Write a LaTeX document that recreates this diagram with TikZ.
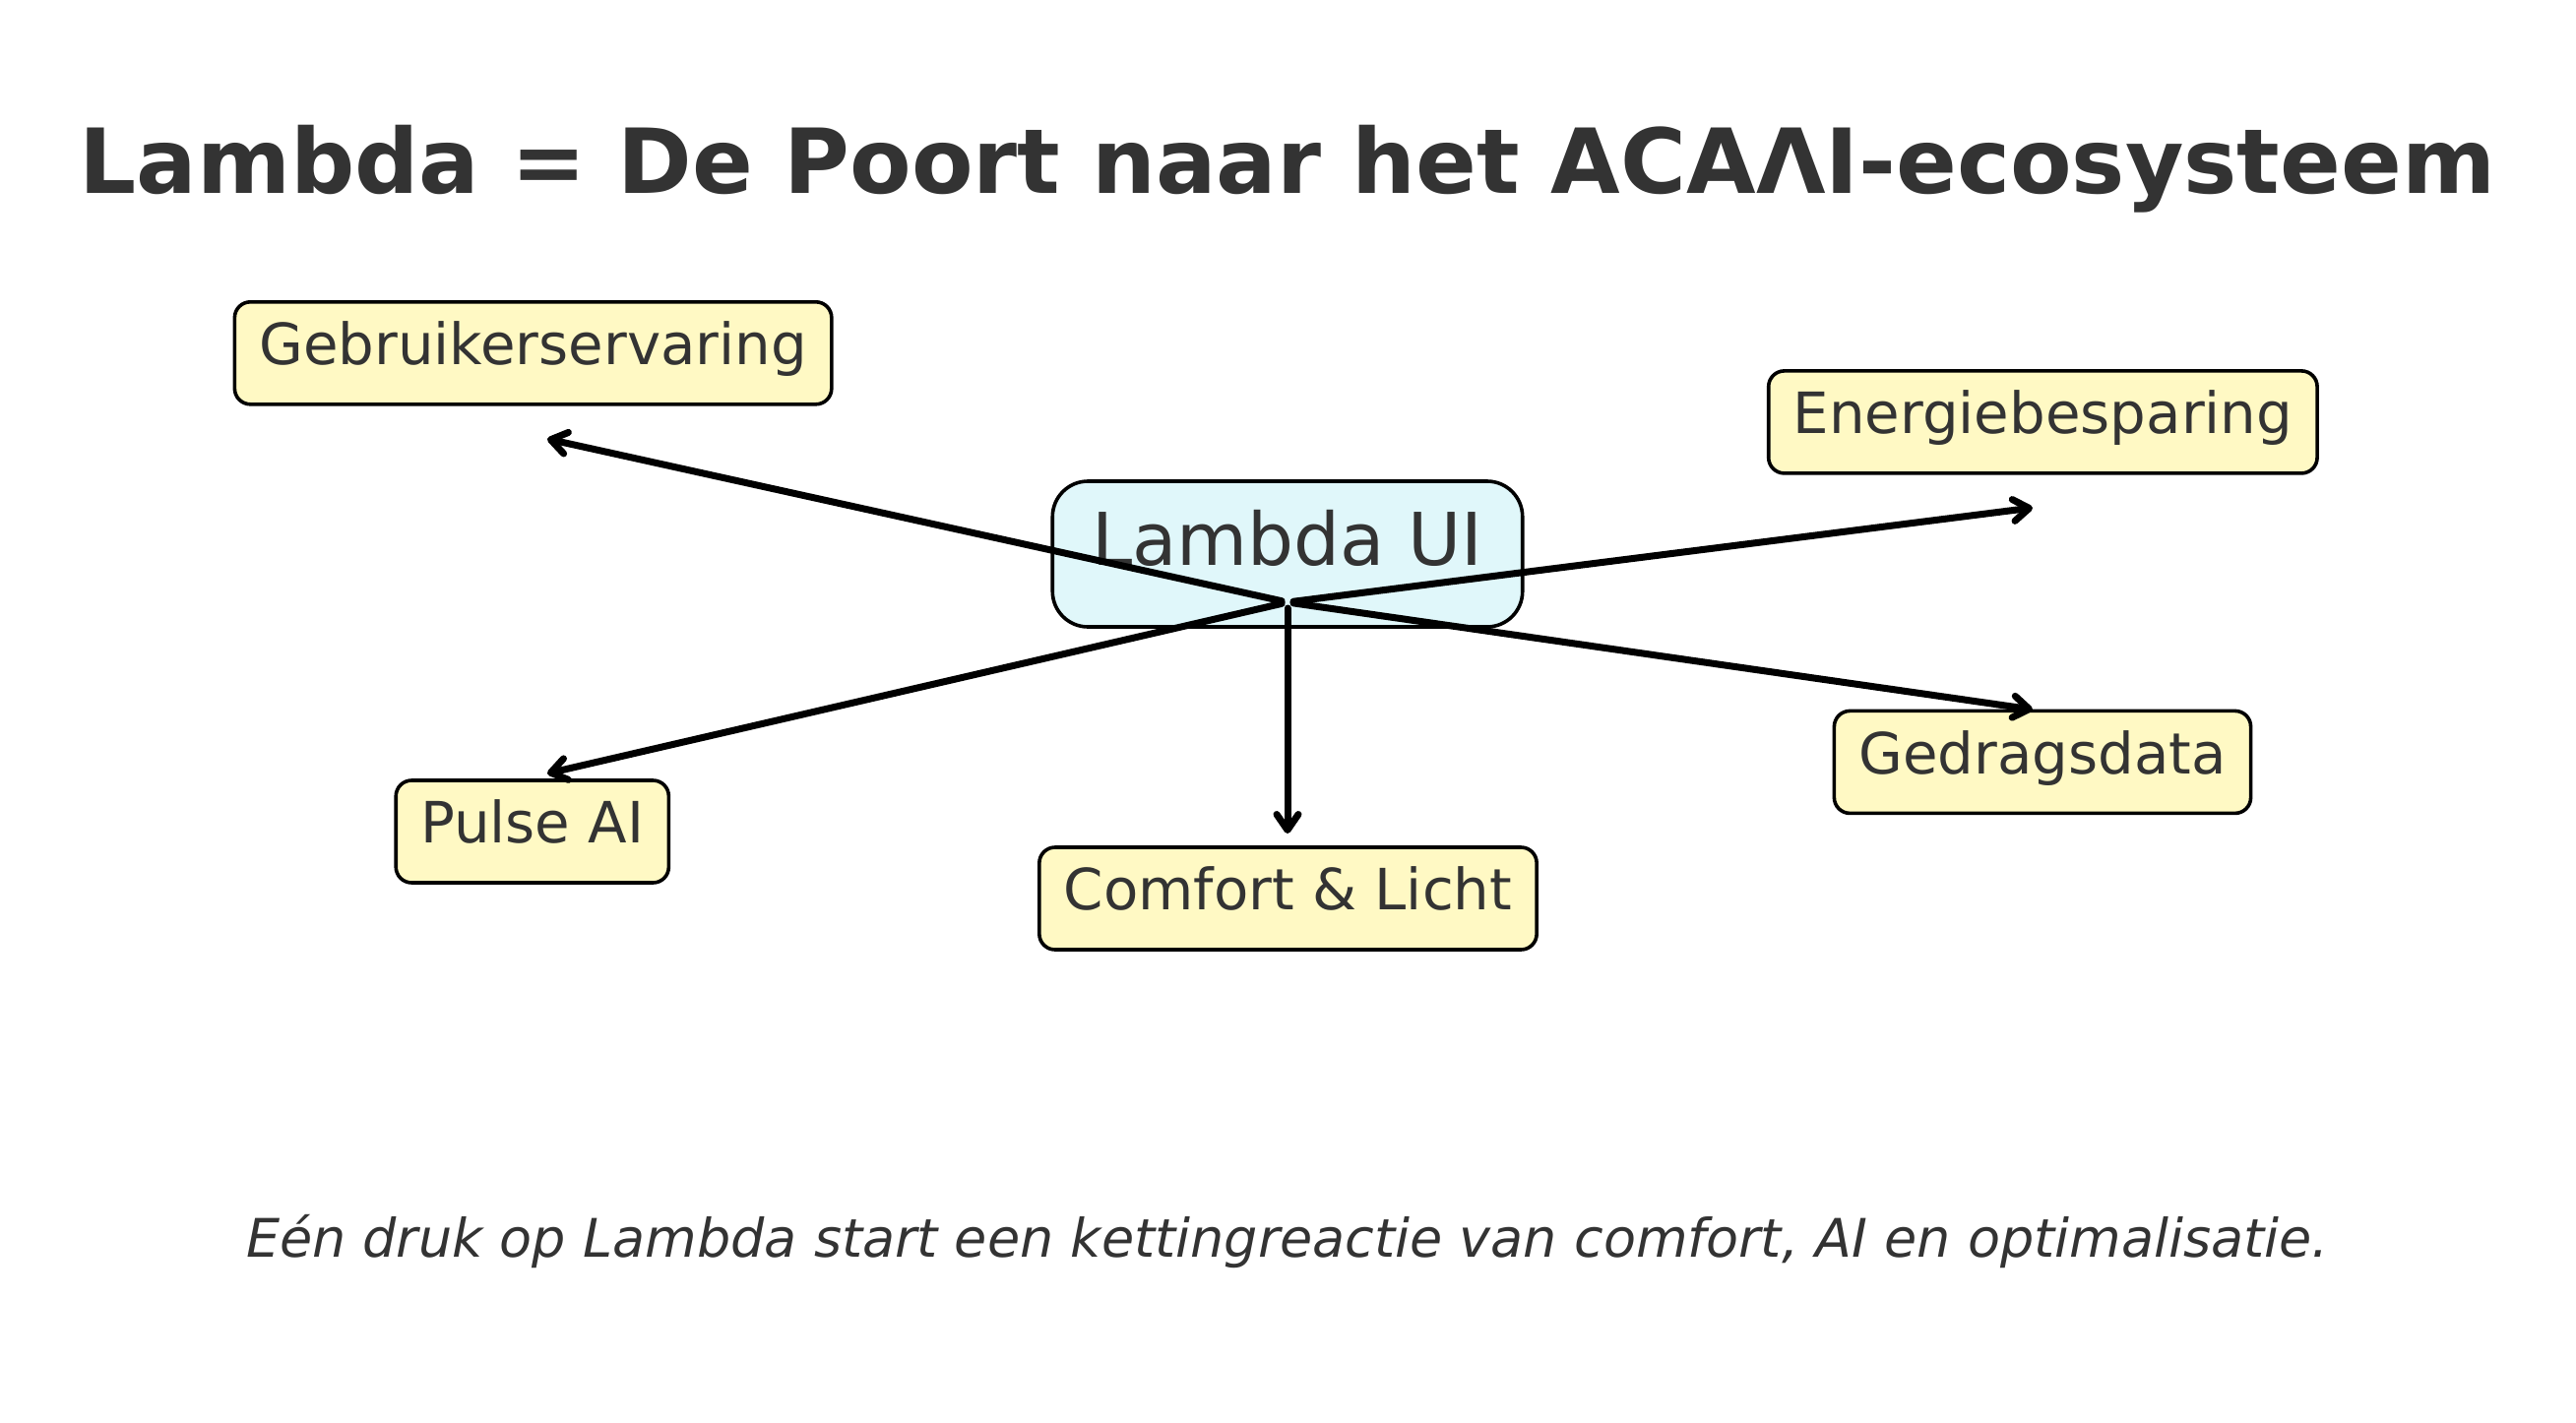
\documentclass[tikz,border=0pt]{standalone}
\usepackage{fontspec}
\setmainfont{DejaVu Sans}
\usetikzlibrary{arrows.meta}
\definecolor{txt}{HTML}{333333}
\definecolor{hubfill}{HTML}{E0F7FA}
\definecolor{leaffill}{HTML}{FFF9C4}
\begin{document}
\begin{tikzpicture}[x=0.25pt,y=-0.25pt,
  leaf/.style={draw=black, line width=0.9pt, fill=leaffill, rounded corners=4pt,
    text=txt, font=\fontsize{14.45}{17}\selectfont, inner xsep=6.25pt, inner ysep=0pt,
    minimum height=26pt, text height=0.81em, text depth=0.22em},
  hub/.style={draw=black, line width=0.9pt, fill=hubfill, rounded corners=9pt,
    text=txt, font=\fontsize{18.5}{22}\selectfont, inner xsep=10pt, inner ysep=0pt,
    minimum height=37pt, text height=0.81em, text depth=0.22em},
  link/.style={line width=1.75pt, line cap=round, -{Straight Barb[length=4pt,width=5.5pt,line cap=round,round]}, shorten <=1.5pt}
]
\useasboundingbox (0,0) rectangle (2617,1446);

\node[font=\bfseries\fontsize{22.8}{28}\selectfont, text=txt, anchor=base] (title) at (1308,196) {Lambda = De Poort naar het ACAΛI-ecosysteem};

\node[hub] (hub) at (1308,563) {Lambda UI};

\node[leaf] (gebr) at (541.6,358.8) {Gebruikerservaring};
\node[leaf] (ener) at (2075.4,428.9) {Energiebesparing};
\node[leaf] (gedr) at (2075,774.4) {Gedragsdata};
\node[leaf] (pulse) at (540.8,845) {Pulse AI};
\node[leaf] (comf) at (1308.5,913) {Comfort \& Licht};

\coordinate (origin) at (1308,612);
\coordinate (tgebr) at (556,446);
\coordinate (tener) at (2065,516);
\coordinate (tgedr) at (2065,721);
\coordinate (tpulse) at (556,786);
\coordinate (tcomf) at (1308,847);

\draw[link] (origin) -- (tgebr);
\draw[link] (origin) -- (tener);
\draw[link] (origin) -- (tgedr);
\draw[link] (origin) -- (tpulse);
\draw[link] (origin) -- (tcomf);

\node[font=\itshape\fontsize{13.5}{16}\selectfont, text=txt, anchor=base] (caption) at (1308,1277) {Eén druk op Lambda start een kettingreactie van comfort, AI en optimalisatie.};
\end{tikzpicture}
\end{document}
